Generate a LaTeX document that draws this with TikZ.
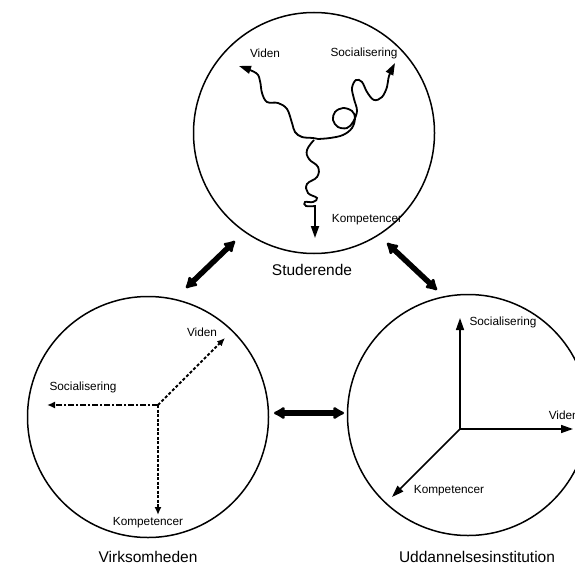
\documentclass[tikz,border=0pt]{standalone}
\usepackage{fontspec}
\setmainfont{Liberation Sans}
\usetikzlibrary{arrows.meta,positioning,calc}

\begin{document}
\begin{tikzpicture}[x = 1pt, y = -1pt, line width = 1.5pt,
  lbl/.style = {font = \fontsize{11.8}{14}\selectfont, inner sep = 0pt},
  worldname/.style = {font = \fontsize{15.5}{18}\selectfont, inner sep = 0pt},
  world/.style = {draw, circle, inner sep = 0pt, minimum size = 241pt},
  tip/.style = {-{Triangle[length = 12pt, width = 8pt]}},
  wave/.style = {tip, line width = 1.8pt},
  smalltip/.style = {-{Latex[length = 8pt, width = 7pt]}, line width = 1.8pt},
  link/.style = {{Latex[round, length = 13pt, width = 15pt]}-{Latex[round, length = 13pt, width = 15pt]}, line width = 5.5pt}]
\useasboundingbox (0,0) rectangle (575,567);

\node[world] (stud) at (314,133) {};
\node[world] (virk) at (148,417) {};
\node[world] (inst) at (468,415) {};
\node[worldname] (studname) at (312,270) {Studerende};
\node[worldname] (virkname) at (148,557) {Virksomheden};
\node[worldname] (instname) at (477,557) {Uddannelsesinstitution};

\coordinate (sc) at (318,139);
\coordinate (sv) at (239,66);
\coordinate (ss) at (395,63);
\coordinate (sk) at (315,238);
\draw[wave] plot[smooth, tension = .6] coordinates {(sc) (313,138) (302,137) (295,132) (292,123) (287,109) (278,103) (267,102) (262,93) (260,81) (256,73) (sv)};
\draw[wave] plot[smooth, tension = .6] coordinates {(sc) (330,138) (343,135) (352,128) (355,118) (352,111) (343,108) (335,112) (333,120) (338,127) (347,128) (353,122) (357,111) (354,99) (352,88) (356,80) (362,82) (367,92) (374,100) (382,97) (387,87) (389,76) (ss)};
\draw[wave] plot[smooth, tension = .7] coordinates {(314,140) (307,150) (309,159) (318,167) (317,177) (307,184) (308,193) (317,198) (313,202) (305,202) (306,206) (315,206)} -- (sk);
\node[lbl] (sviden) at (265,53) {Viden};
\node[lbl] (ssoc) at (364,53) {Socialisering};
\node[lbl] (skomp) at (367,220) {Kompetencer};

\coordinate (vc) at (158,405);
\coordinate (vv) at (225,338);
\coordinate (vs) at (47,405);
\coordinate (vk) at (158,515);
\draw[smalltip, dash pattern = on 3pt off 2pt] (vc) -- (vv);
\draw[smalltip, dash pattern = on 6pt off 2pt on 2pt off 2pt] (vc) -- (vs);
\draw[smalltip, dash pattern = on 3pt off 1.5pt] (vc) -- (vk);
\node[lbl] (vviden) at (202,332) {Viden};
\node[lbl] (vsoc) at (83,387) {Socialisering};
\node[lbl] (vkomp) at (148,523) {Kompetencer};

\coordinate (ic) at (460,429);
\coordinate (is) at (460,318);
\coordinate (iv) at (573,429);
\coordinate (ik) at (392,497);
\draw[tip] (ic) -- (is);
\draw[tip] (ic) -- (iv);
\draw[tip] (ic) -- (ik);
\node[lbl] (isoc) at (503,322) {Socialisering};
\node[lbl, anchor = west] (ividen) at (548,415) {Viden};
\node[lbl] (ikomp) at (449,491) {Kompetencer};

\coordinate (a1) at (235,241);
\coordinate (b1) at (186,288);
\coordinate (a2) at (387,243);
\coordinate (b2) at (437,290);
\coordinate (a3) at (274,413);
\coordinate (b3) at (344,413);
\draw[link] (a1) -- (b1);
\draw[link] (a2) -- (b2);
\draw[link] (a3) -- (b3);
\end{tikzpicture}
\end{document}
